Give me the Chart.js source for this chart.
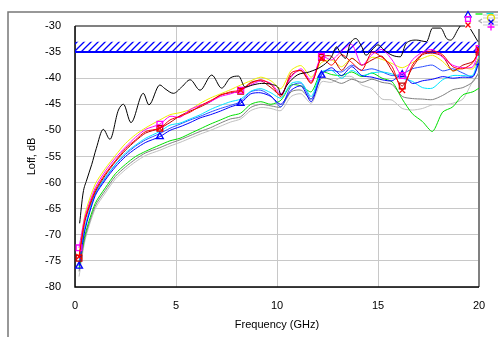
<!DOCTYPE html>
<html>
<head>
<meta charset="utf-8">
<script src="https://cdn.jsdelivr.net/npm/chart.js@4.4.1/dist/chart.umd.min.js"></script>
<style>
  html, body { margin: 0; padding: 0; background: #fff; }
  #wrap { width: 498px; height: 337px; }
</style>
</head>
<body>
<div id="wrap"><canvas id="loff-chart" width="498" height="337"></canvas></div>
<script>
// 频率轴 (GHz) 和刻度
const FREQ = [0.2, 0.5, 1, 1.5, 2, 2.5, 3, 3.5,
    4.2, 4.7, 5.2, 5.7, 6.2, 6.7, 7.2, 7.7,
    8.2, 8.7, 9.2, 9.7, 10.2, 10.7, 11.2, 11.7,
    12.2, 12.7, 13.2, 13.7, 14.2, 14.7, 15.2, 15.7,
    16.2, 16.7, 17.2, 17.7, 18.2, 18.7, 19.2, 19.7, 20];
const MARK_F = [0.2, 4.2, 8.2, 12.2, 16.2, 20];
const X_TICKS = [0, 5, 10, 15, 20];
const Y_TICKS = [-80, -75, -70, -65, -60, -55, -50, -45, -40, -35, -30];

// 限值带
const LIMIT_FREQ = [0, 20];
const LIMIT_LOW = -35;
const LIMIT_HIGH = -33;

// 各条曲线 (dB)
const yellowLoss = [-74, -66, -60.3, -57.3, -54.8, -52.5, -50.8, -49.5,
    -48, -47, -46.6, -46, -44.8, -43.8, -43, -42.2,
    -41.3, -40.5, -39.8, -40.5, -42, -38.5, -37.6, -39.8,
    -37, -36.5, -37.8, -36.2, -37.5, -36, -36.4, -37.2,
    -38, -37, -36.2, -35.6, -36.8, -38.6, -38, -38.2, -36];
const magentaLoss = [-72.5, -66.5, -61, -57.8, -55.3, -53.2, -51.3, -49.8,
    -48.8, -47.3, -47.5, -46, -45.2, -44.5, -43.5, -43,
    -42.3, -41.3, -40.5, -41, -43, -39.8, -38.2, -40.5,
    -35.8, -36.5, -34.8, -33.5, -37.5, -35.5, -34.5, -36.5,
    -39.5, -36.5, -35, -34.5, -36, -37.5, -38, -37.8, -34.3];
const redLoss = [-74.2, -67, -61.5, -58.3, -55.8, -53.5, -51.8, -50.2,
    -49.6, -48, -47.3, -46.5, -45.3, -44.3, -43.3, -42.6,
    -42.3, -41, -40.3, -41.2, -43.5, -39, -38.6, -41,
    -36.2, -37.5, -35.5, -37, -38.5, -35, -36, -37.8,
    -42.3, -37.5, -35.3, -34.8, -35.5, -37.8, -38.2, -37, -34.5];
const darkRedLoss = [-74.5, -67.3, -61.8, -58.6, -56, -53.8, -52, -50.5,
    -49.6, -48.5, -47.2, -46.3, -45.5, -44.5, -43.2, -42.8,
    -42.5, -40.8, -40.5, -41.8, -43.2, -39.5, -38.5, -40.8,
    -36, -35.8, -38.5, -36.2, -37.5, -36.5, -35.8, -38.6,
    -41.5, -38, -35.5, -35.2, -35.8, -38.6, -37.5, -36.8, -35];
const cyanLoss = [-75.5, -68.5, -62, -59, -56.5, -54.3, -52.8, -51.5,
    -50.2, -49, -48.6, -47.8, -47, -46, -45.2, -44.5,
    -44, -42.5, -42, -42.8, -43.8, -41, -40.8, -43.5,
    -38.8, -38.5, -40, -38.5, -39.5, -39, -38.8, -39.2,
    -40, -40.6, -41.8, -41.9, -40.3, -39.5, -39.5, -39.4, -35.6];
const blueLoss = [-76, -69, -62.5, -59.5, -57, -55, -53.5, -52.3,
    -51.2, -50, -49.3, -48.5, -47.6, -47, -46.3, -45.5,
    -44.8, -43, -42.8, -43.5, -45, -42.3, -41.5, -44.5,
    -39.4, -38, -39.5, -37.8, -39.5, -39.8, -40.3, -40.5,
    -39.3, -41, -40.5, -40.2, -39.7, -40, -39.8, -39.7, -37];
const blue2Loss = [-75.8, -68.6, -62.2, -59.2, -56.6, -54.6, -53, -51.8,
    -50.6, -49.6, -48.8, -48, -47.3, -46.5, -45.8, -45.2,
    -44.5, -42.6, -42.3, -43.4, -45.5, -41.5, -41, -44,
    -39, -38.5, -38.8, -37.5, -38.5, -38.2, -38.8, -39.5,
    -39.2, -38.2, -37.8, -37.5, -38.6, -38.2, -39, -39.7, -36];
const greenLoss = [-76.5, -70, -64, -61, -58.3, -56.5, -55, -54,
    -52.8, -52, -51.5, -50.6, -49.7, -48.8, -48, -47.2,
    -46.7, -45, -44.5, -45, -44.2, -41.3, -41.5, -42.6,
    -38.8, -39.3, -39.5, -38.8, -39.7, -39, -40, -40.7,
    -44, -46.8, -48.3, -50.2, -46.5, -45.5, -43.2, -42.6, -41.9];
const greyLoss = [-77, -70.5, -64.5, -61.5, -58.8, -57, -55.5, -54.3,
    -53.3, -52.5, -51.8, -51, -50.2, -49.5, -48.6, -47.8,
    -47.4, -45.6, -45, -45.3, -45.5, -42.6, -42.3, -44,
    -40, -40.3, -41, -40.2, -40.8, -40.2, -40.8, -41.2,
    -43.5, -43.9, -44, -44.1, -43.3, -42.2, -41.8, -40.7, -38.8];
const lightGreyLoss = [-78, -71, -65, -62, -59.3, -57.5, -56, -54.8,
    -53.8, -53, -52.3, -51.5, -50.7, -50, -49.2, -48.4,
    -47.8, -46.2, -45.6, -45.8, -46.2, -43.5, -43, -44.8,
    -40.7, -40.8, -39.8, -39.7, -41.3, -42, -44, -44.2,
    -45.8, -46.1, -45.8, -45.1, -45.1, -44.8, -44, -40.5, -39];

// 黑色曲线单独取点
const BLACK_FREQ = [0.23, 0.4, 0.58, 0.83, 1.05, 1.4, 1.73, 2.15, 2.4, 2.77,
    3.38, 3.66, 4.2, 4.45, 4.87, 5.28, 5.7, 6.19, 6.77, 7.26,
    7.67, 8.1, 8.42, 8.8, 9.24, 9.74, 10.07, 10.2, 10.5, 11,
    11.6, 12.3, 12.7, 12.95, 13.1, 13.4, 13.6, 13.9, 14.2, 14.4,
    14.7, 15, 15.3, 15.7, 16.1, 16.4, 16.9, 17.4, 17.7, 18.1,
    18.4, 18.6, 19, 19.3, 19.55, 19.95];
const blackLoss = [-67.8, -62, -59.5, -56.5, -53.5, -49.8, -51.7, -46.1, -45, -48.5,
    -42.9, -45.1, -41.3, -42, -42.9, -41.7, -40.3, -42.3, -39.4, -41.9,
    -40, -39.6, -41.7, -41.3, -41, -41.2, -41.9, -43.2, -41.3, -39.4,
    -38.8, -37.5, -35.9, -34, -34.9, -36.2, -33.6, -32.4, -34, -35.6,
    -34.6, -33.6, -34.6, -35.6, -35.9, -33.3, -32.7, -33, -30.4, -30.4,
    -32.4, -32.7, -30.4, -29, -30.4, -33];

const FONT = { family: "'Liberation Sans', Arial, sans-serif", size: 11 };

// 斜线填充图案
function makeHatch() {
    const c = document.createElement('canvas');
    c.width = 7;
    c.height = 7;
    const g = c.getContext('2d');
    g.strokeStyle = '#0000ff';
    g.lineWidth = 1.3;
    g.beginPath();
    g.moveTo(0, 7); g.lineTo(7, 0);
    g.moveTo(-1, 1); g.lineTo(1, -1);
    g.moveTo(6, 8); g.lineTo(8, 6);
    g.stroke();
    return g.createPattern(c, 'repeat');
}

function makeSeries(label, color, values, marker) {
    return {
        label: label,
        data: FREQ.map((f, i) => ({ x: f, y: values[i] })),
        borderColor: color,
        backgroundColor: color,
        borderWidth: 1,
        tension: 0.25,
        fill: false,
        pointStyle: marker || 'circle',
        pointRadius: FREQ.map(f => (marker && MARK_F.includes(f)) ? 4 : 0),
        pointHoverRadius: 0,
        pointBorderColor: color,
        pointBackgroundColor: 'rgba(0,0,0,0)',
        pointBorderWidth: 1.3,
        order: 1
    };
}

// 外框、绘图区边框、图例
const framePlugin = {
    id: 'frame',
    beforeDraw(chart) {
        const ctx = chart.ctx;
        ctx.save();
        ctx.fillStyle = '#fff';
        ctx.fillRect(0, 0, chart.width, chart.height);
        ctx.strokeStyle = '#777';
        ctx.lineWidth = 1.5;
        ctx.beginPath();
        ctx.moveTo(8, chart.height);
        ctx.lineTo(8, 12);
        ctx.lineTo(chart.width, 12);
        ctx.stroke();
        ctx.restore();
    },
    beforeDatasetsDraw(chart) {
        const a = chart.chartArea;
        const ctx = chart.ctx;
        ctx.save();
        ctx.strokeStyle = '#808080';
        ctx.lineWidth = 2;
        ctx.beginPath();
        ctx.moveTo(a.left, a.top);
        ctx.lineTo(a.right, a.top);
        ctx.lineTo(a.right, a.bottom);
        ctx.stroke();
        ctx.strokeStyle = '#000';
        ctx.lineWidth = 1.5;
        ctx.beginPath();
        ctx.moveTo(a.left, a.top);
        ctx.lineTo(a.left, a.bottom);
        ctx.lineTo(a.right, a.bottom);
        ctx.stroke();
        ctx.restore();
    },
    afterDraw(chart) {
        // 被裁掉一半的图例
        const ctx = chart.ctx;
        const x0 = chart.chartArea.right - 14;
        const y0 = 13;
        ctx.save();
        ctx.fillStyle = '#fff';
        ctx.fillRect(x0, y0, chart.width - x0, 16);
        ctx.strokeStyle = '#c8c8c8';
        ctx.lineWidth = 1;
        [2, 5, 9, 12].forEach(dy => {
            ctx.beginPath();
            ctx.moveTo(x0 + 18, y0 + dy);
            ctx.lineTo(chart.width, y0 + dy);
            ctx.stroke();
        });
        const items = [
            ['triangle', '#0000ff', 3, 2],
            ['rect', '#ff00ff', 3, 6],
            ['crossRot', '#ff0000', 3, 12],
            ['line', '#00ee00', 14, 1],
            ['line', '#00e0e0', 25, 0.5],
            ['circle', '#e0e000', 26, 5],
            ['crossRot', '#0000ff', 26, 9],
            ['cross', '#ff00ff', 26, 14]
        ];
        items.forEach(it => {
            ctx.strokeStyle = it[1];
            ctx.fillStyle = 'rgba(0,0,0,0)';
            ctx.lineWidth = 1.3;
            Chart.helpers.drawPoint(ctx, { pointStyle: it[0], radius: 3.5, borderWidth: 1.3, rotation: 0 },
                x0 + it[2], y0 + it[3]);
        });
        ctx.strokeStyle = '#aaa';
        ctx.beginPath();
        ctx.moveTo(x0 + 17, y0 + 6); ctx.lineTo(x0 + 14, y0 + 8); ctx.lineTo(x0 + 17, y0 + 10);
        ctx.stroke();
        ctx.restore();
    }
};

function initLoffChart() {
    const ctx = document.getElementById('loff-chart');
    const hatch = makeHatch();

    const datasets = [
        {
            label: 'band',
            data: LIMIT_FREQ.map(f => ({ x: f, y: LIMIT_HIGH })),
            borderWidth: 0,
            borderColor: 'rgba(0,0,0,0)',
            backgroundColor: hatch,
            pointRadius: 0,
            fill: { value: LIMIT_LOW },
            order: 20
        },
        {
            label: 'limit',
            data: LIMIT_FREQ.map(f => ({ x: f, y: LIMIT_LOW })),
            borderWidth: 2,
            borderColor: '#0000ff',
            pointRadius: 0,
            fill: false,
            order: 19
        },
        {
            label: 'black',
            data: BLACK_FREQ.map((f, i) => ({ x: f, y: blackLoss[i] })),
            borderColor: '#000',
            borderWidth: 1,
            cubicInterpolationMode: 'monotone',
            pointRadius: 0,
            fill: false,
            order: 1
        },
        makeSeries('red', '#ff0000', redLoss, 'crossRot'),
        makeSeries('magenta', '#ff00ff', magentaLoss, 'rect'),
        makeSeries('darkred', '#c00000', darkRedLoss, 'rect'),
        makeSeries('yellow', '#f0f000', yellowLoss, null),
        makeSeries('blue', '#0000ff', blueLoss, 'triangle'),
        makeSeries('cyan', '#00e5ff', cyanLoss, null),
        makeSeries('blue2', '#2a4dff', blue2Loss, null),
        makeSeries('green', '#00e000', greenLoss, null),
        makeSeries('grey', '#808080', greyLoss, null),
        makeSeries('lightgrey', '#c0c0c0', lightGreyLoss, null)
    ];

    new Chart(ctx, {
        type: 'line',
        data: { datasets: datasets },
        options: {
            responsive: false,
            animation: false,
            layout: { padding: { left: 0, top: 26, right: 19, bottom: 0 } },
            plugins: {
                legend: { display: false },
                tooltip: { enabled: false }
            },
            scales: {
                x: {
                    type: 'linear',
                    min: 0,
                    max: 20,
                    afterBuildTicks: s => { s.ticks = X_TICKS.map(v => ({ value: v })); },
                    afterFit: s => { s.height = 50; },
                    grid: { color: '#c8c8c8', lineWidth: 1, drawTicks: false },
                    border: { display: false },
                    ticks: { color: '#000', font: FONT, padding: 12, maxRotation: 0 },
                    title: {
                        display: true,
                        text: 'Frequency (GHz)',
                        color: '#000',
                        font: FONT,
                        padding: { top: 0, bottom: 5 }
                    }
                },
                y: {
                    type: 'linear',
                    min: -80,
                    max: -30,
                    afterBuildTicks: s => { s.ticks = Y_TICKS.map(v => ({ value: v })); },
                    afterFit: s => { s.width = 75; },
                    grid: { color: '#c8c8c8', lineWidth: 1, drawTicks: false },
                    border: { display: false },
                    ticks: { color: '#000', font: FONT, padding: 14 },
                    title: {
                        display: true,
                        text: 'Loff, dB',
                        color: '#000',
                        font: FONT,
                        padding: { top: 25, bottom: 0 }
                    }
                }
            }
        },
        plugins: [framePlugin]
    });
}

document.addEventListener('DOMContentLoaded', initLoffChart);
</script>
</body>
</html>
